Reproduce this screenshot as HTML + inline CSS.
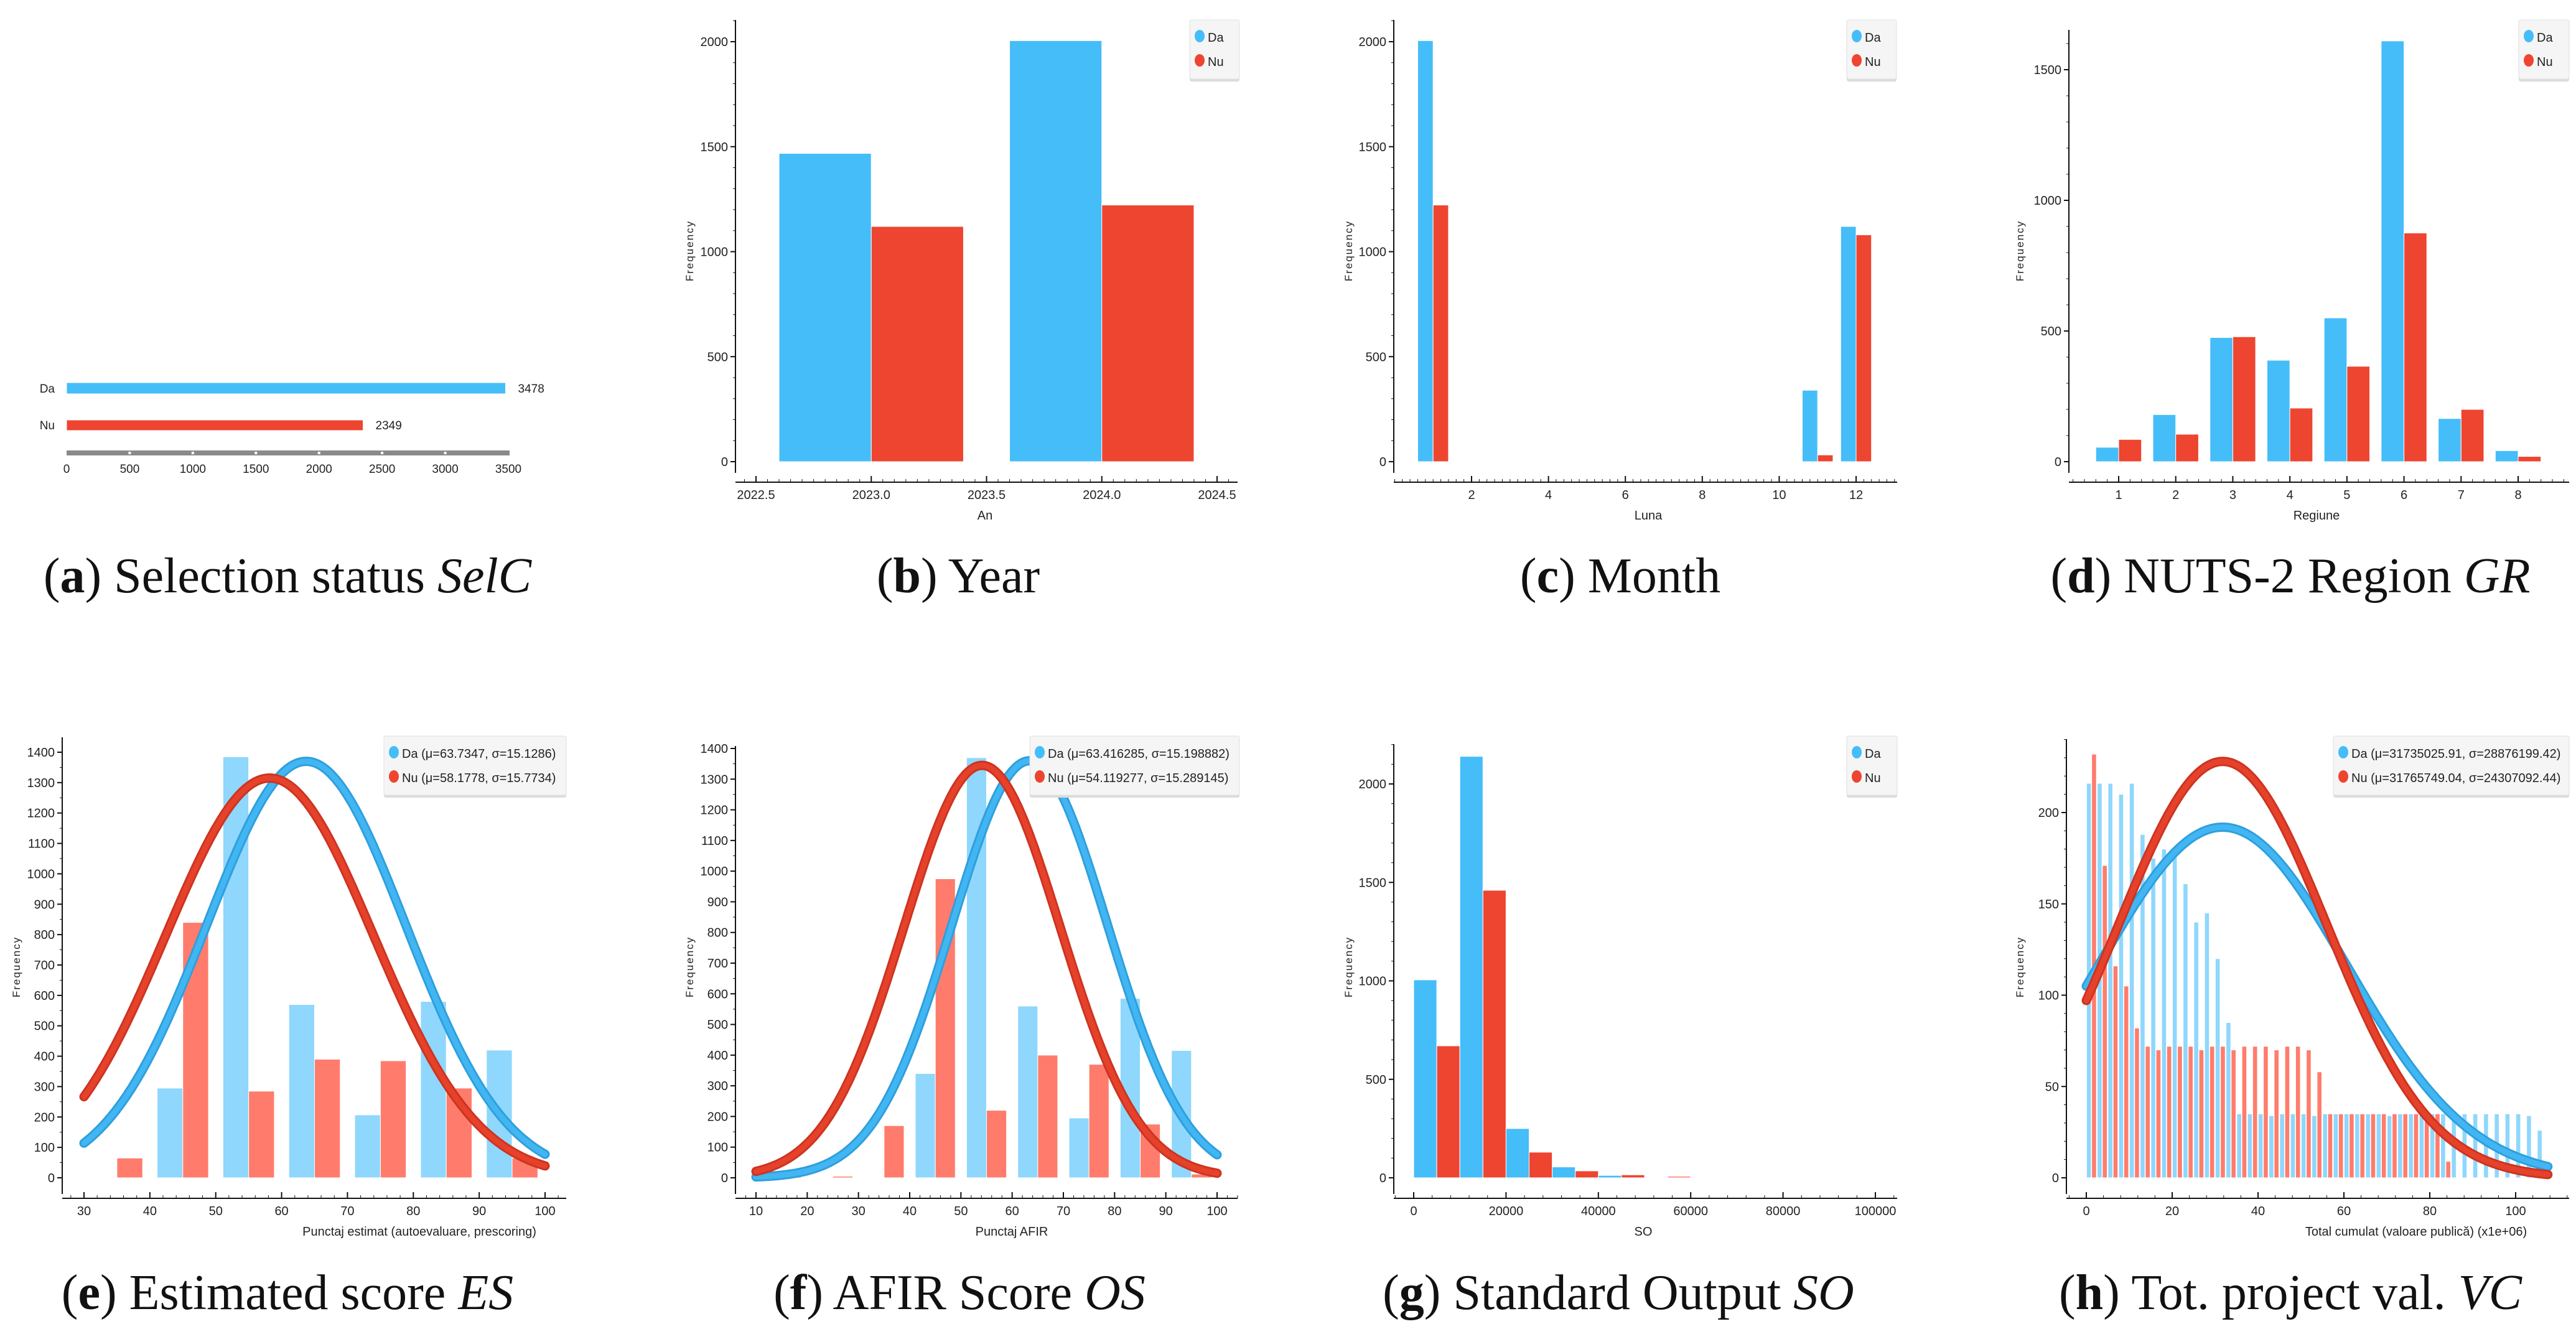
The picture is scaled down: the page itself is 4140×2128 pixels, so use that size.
<!DOCTYPE html>
<html><head><meta charset="utf-8"><title>Distributions</title>
<style>
html,body{margin:0;padding:0;background:#fff;}
svg{display:block;}
text{font-family:"Liberation Sans",sans-serif;}
.cap{font-family:"Liberation Serif",serif;font-size:80px;fill:#111;}
</style></head>
<body>
<svg id="fig" xmlns="http://www.w3.org/2000/svg" width="4140" height="2128" viewBox="0 0 4140 2128">
<rect x="0" y="0" width="4140" height="2128" fill="#fff"/>
<text class="cap" x="462" y="952" text-anchor="middle">(<tspan font-weight="bold">a</tspan>) Selection status <tspan font-style="italic">SelC</tspan></text>
<text class="cap" x="1540" y="952" text-anchor="middle">(<tspan font-weight="bold">b</tspan>) Year</text>
<text class="cap" x="2604" y="952" text-anchor="middle">(<tspan font-weight="bold">c</tspan>) Month</text>
<text class="cap" x="3681" y="952" text-anchor="middle">(<tspan font-weight="bold">d</tspan>) NUTS-2 Region <tspan font-style="italic">GR</tspan></text>
<text class="cap" x="462" y="2104" text-anchor="middle">(<tspan font-weight="bold">e</tspan>) Estimated score <tspan font-style="italic">ES</tspan></text>
<text class="cap" x="1542" y="2104" text-anchor="middle">(<tspan font-weight="bold">f</tspan>) AFIR Score <tspan font-style="italic">OS</tspan></text>
<text class="cap" x="2601" y="2104" text-anchor="middle">(<tspan font-weight="bold">g</tspan>) Standard Output <tspan font-style="italic">SO</tspan></text>
<text class="cap" x="3681" y="2104" text-anchor="middle">(<tspan font-weight="bold">h</tspan>) Tot. project val. <tspan font-style="italic">VC</tspan></text>
</svg>
<script>
// ---- data ----
const selCategories = ["Da", "Nu"];
const selValues = [3478, 2349];
const selTicks = [0, 500, 1000, 1500, 2000, 2500, 3000, 3500];

const yearCategories = [2023, 2024];
const yearDa = [1468, 2005];
const yearNu = [1120, 1222];
const yearTicks = [2022.5, 2023.0, 2023.5, 2024.0, 2024.5];

const monthCategories = [1, 11, 12];
const monthDa = [2005, 340, 1120];
const monthNu = [1222, 32, 1080];
const monthTicks = [2, 4, 6, 8, 10, 12];

const regionCategories = [1, 2, 3, 4, 5, 6, 7, 8];
const regionDa = [55, 180, 475, 388, 550, 1610, 165, 42];
const regionNu = [85, 105, 478, 205, 365, 875, 200, 20];

const esBins = [30, 40, 50, 60, 70, 80, 90];
const esDa = [0, 295, 1385, 570, 207, 580, 420];
const esNu = [65, 840, 285, 390, 385, 295, 65];
const esMu = [63.7347, 58.1778];
const esSigma = [15.1286, 15.7734];
const esPeak = [1370, 1315];

const osBins = [10, 20, 30, 40, 50, 60, 70, 80, 90];
const osDa = [0, 0, 0, 340, 1370, 560, 195, 585, 415];
const osNu = [3, 5, 170, 975, 220, 400, 370, 175, 12];
const osMu = [63.416285, 54.119277];
const osSigma = [15.198882, 15.289145];
const osPeak = [1360, 1345];

const soBins = [0, 10000, 20000, 30000, 40000, 50000, 60000, 70000, 80000, 90000];
const soDa = [1005, 2140, 250, 55, 12, 2, 3, 1, 1, 1];
const soNu = [670, 1460, 130, 35, 15, 8, 2, 1, 1, 1];

const vcDa = [216,216,216,210,216,188,175,180,178,161,140,145,120,85,35,35,35,34,35,35,35,34,35,35,35,35,35,35,34,35,35,35,35,35,35,35,35,35,35,35,35,34,26];
const vcNu = [232,171,116,105,82,72,70,72,72,72,70,72,72,70,72,72,72,70,72,72,70,58,35,35,35,35,35,35,35,35,35,35,35,9,0,0,0,0,0,0,0,0,0];
const vcMu = [31.73502591, 31.76574904];
const vcSigma = [28.87619942, 24.30709244];
const vcPeak = [192, 228];

// ---- drawing ----
const NS = "http://www.w3.org/2000/svg";
const svg = document.getElementById("fig");
const DA = "#45bdf9", NU = "#ee4530", DAL = "#8fd7fc", NUL = "#ff7c6c";

function mk(tag, attrs, name, parent) {
  const el = document.createElementNS(NS, tag);
  for (const k in attrs) el.setAttribute(k, attrs[k]);
  
  
  (parent || svg).appendChild(el);
  return el;
}
function txt(x, y, s, name, opts, parent) {
  const a = Object.assign({x: x, y: y, "font-size": 20, fill: "#222"}, opts || {});
  const t = mk("text", a, name, parent);
  t.textContent = s;
  return t;
}
function lin(v0, p0, v1, p1) { const k = (p1 - p0) / (v1 - v0); return v => p0 + (v - v0) * k; }

function axes(g, c) {
  mk("line", {x1: c.ax, y1: c.yTop, x2: c.ax, y2: c.yBot, stroke: "#111", "stroke-width": 2}, "y-axis-line", g);
  c.yTicks.forEach(v => {
    const y = c.sy(v);
    mk("line", {x1: c.ax - 8, y1: y, x2: c.ax, y2: y, stroke: "#111", "stroke-width": 2}, "y-tick", g);
    txt(c.ax - 12, y + 7, String(v), "y-tick-label", {"text-anchor": "end"}, g);
  });
  if (c.yMinor) {
    for (let v = c.yMinor[0]; v <= c.yMinor[1] + 1e-9; v += c.yMinor[2]) {
      const y = c.sy(v);
      if (y < c.yTop || y > c.yBot) continue;
      mk("line", {x1: c.ax - 4, y1: y, x2: c.ax, y2: y, stroke: "#111", "stroke-width": 1}, "y-minor-tick", g);
    }
  }
  mk("line", {x1: c.ax, y1: c.xy, x2: c.xr, y2: c.xy, stroke: "#111", "stroke-width": 2}, "x-axis-line", g);
  c.xTicks.forEach((v, i) => {
    const x = c.sx(v);
    mk("line", {x1: x, y1: c.xy - 10, x2: x, y2: c.xy, stroke: "#111", "stroke-width": 2}, "x-tick", g);
    txt(x, c.xy + 27, c.xFmt ? c.xFmt(v) : String(v), "x-tick-label", {"text-anchor": "middle"}, g);
  });
  if (c.xMinor) {
    for (let v = c.xMinor[0]; v <= c.xMinor[1] + 1e-9; v += c.xMinor[2]) {
      const x = c.sx(v);
      if (x < c.ax || x > c.xr) continue;
      mk("line", {x1: x, y1: c.xy - 5, x2: x, y2: c.xy, stroke: "#111", "stroke-width": 1}, "x-minor-tick", g);
    }
  }
  txt(c.xTitleX, c.xy + 60, c.xTitle, "x-axis-title", {"text-anchor": "middle"}, g);
  txt(0, 0, "Frequency", "y-axis-title", {"text-anchor": "middle", "font-size": 17, "letter-spacing": 2,
      transform: "translate(" + c.yTitleX + "," + c.yTitleY + ") rotate(-90)"}, g);
}
function legend(g, x, y, w, labels, cols) {
  mk("rect", {x: x, y: y + 3, width: w, height: 96, fill: "#dcdcdc", rx: 3}, "legend-shadow", g);
  mk("rect", {x: x, y: y, width: w, height: 95, fill: "#f5f5f5", stroke: "#e0e0e0", "stroke-width": 1, rx: 3}, "legend-box", g);
  labels.forEach((l, i) => {
    const cy = y + 28 + i * 39;
    mk("ellipse", {cx: x + 16, cy: cy - 2, rx: 8, ry: 10, fill: cols[i]}, "legend-marker", g);
    txt(x + 29, cy + 7, l, "legend-entry", {}, g);
  });
}
function bar(g, x0, x1, y0, y1, fill, name) {
  mk("rect", {x: Math.min(x0, x1), y: Math.min(y0, y1), width: Math.abs(x1 - x0), height: Math.abs(y1 - y0), fill: fill, stroke: "#fff", "stroke-width": 1}, name, g);
}
function curve(g, sx, sy, mu, sig, peak, a, b, color, dark, name) {
  let d = "";
  for (let i = 0; i <= 300; i++) {
    const v = a + (b - a) * i / 300;
    const f = peak * Math.exp(-((v - mu) * (v - mu)) / (2 * sig * sig));
    d += (i ? "L" : "M") + sx(v).toFixed(1) + "," + sy(f).toFixed(1);
  }
  mk("path", {d: d, fill: "none", stroke: dark, "stroke-width": 15, "stroke-linecap": "round", "stroke-linejoin": "round"}, name + "-outline", g);
  mk("path", {d: d, fill: "none", stroke: color, "stroke-width": 9, "stroke-linecap": "round", "stroke-linejoin": "round"}, name, g);
}

// ---- (a) selection status ----
(function () {
  const g = mk("g", {}, "chart-selection-status");
  const sx = lin(0, 107, 3500, 817);
  const ys = [[615, 633], [675, 692]];
  selCategories.forEach((c, i) => {
    bar(g, sx(0), sx(selValues[i]), ys[i][0], ys[i][1], i ? NU : DA, "bar-" + c.toLowerCase());
    txt(88, ys[i][1] - 2, c, "category-label", {"text-anchor": "end", "font-size": 19}, g);
    txt(sx(selValues[i]) + 20, ys[i][1] - 2, String(selValues[i]), "value-label", {"font-size": 19}, g);
  });
  mk("rect", {x: 107, y: 724, width: 712, height: 8, fill: "#8a8a8a"}, "x-axis-bar", g);
  selTicks.forEach(v => {
    if (v > 0 && v < 3500) mk("rect", {x: sx(v) - 2, y: 726, width: 4, height: 4, fill: "#fff"}, "x-tick", g);
    txt(sx(v), 760, String(v), "x-tick-label", {"text-anchor": "middle", "font-size": 19}, g);
  });
})();

// ---- (b) year ----
(function () {
  const g = mk("g", {}, "chart-year");
  const sx = lin(2022.5, 1215, 2024.5, 1956), sy = lin(0, 742, 2000, 67);
  yearCategories.forEach((c, i) => {
    bar(g, sx(c - 0.4), sx(c), sy(0), sy(yearDa[i]), DA, "bar-da-" + c);
    bar(g, sx(c), sx(c + 0.4), sy(0), sy(yearNu[i]), NU, "bar-nu-" + c);
  });
  axes(g, {ax: 1182, yTop: 32, yBot: 760, sy: sy, yTicks: [0, 500, 1000, 1500, 2000], yMinor: [0, 2100, 100],
    xy: 775, xr: 1989, sx: sx, xTicks: yearTicks, xFmt: v => v.toFixed(1), xMinor: [2022.45, 2024.6, 0.05],
    xTitle: "An", xTitleX: 1583, yTitleX: 1114, yTitleY: 403});
  legend(g, 1912, 32, 80, ["Da", "Nu"], [DA, NU]);
})();

// ---- (c) month ----
(function () {
  const g = mk("g", {}, "chart-month");
  const sx = lin(2, 2365, 12, 2983), sy = lin(0, 742, 2000, 67);
  monthCategories.forEach((c, i) => {
    bar(g, sx(c - 0.4), sx(c), sy(0), sy(monthDa[i]), DA, "bar-da-" + c);
    bar(g, sx(c), sx(c + 0.4), sy(0), sy(monthNu[i]), NU, "bar-nu-" + c);
  });
  axes(g, {ax: 2240, yTop: 32, yBot: 760, sy: sy, yTicks: [0, 500, 1000, 1500, 2000], yMinor: [0, 2100, 100],
    xy: 775, xr: 3049, sx: sx, xTicks: monthTicks, xMinor: [0, 13.2, 0.2],
    xTitle: "Luna", xTitleX: 2649, yTitleX: 2173, yTitleY: 403});
  legend(g, 2968, 32, 80, ["Da", "Nu"], [DA, NU]);
})();

// ---- (d) region ----
(function () {
  const g = mk("g", {}, "chart-region");
  const sx = lin(1, 3405, 8, 4047), sy = lin(0, 742, 1500, 112);
  regionCategories.forEach((c, i) => {
    bar(g, sx(c - 0.4), sx(c), sy(0), sy(regionDa[i]), DA, "bar-da-" + c);
    bar(g, sx(c), sx(c + 0.4), sy(0), sy(regionNu[i]), NU, "bar-nu-" + c);
  });
  axes(g, {ax: 3325, yTop: 48, yBot: 760, sy: sy, yTicks: [0, 500, 1000, 1500], yMinor: [0, 1600, 100],
    xy: 775, xr: 4129, sx: sx, xTicks: regionCategories, xMinor: [0.2, 8.8, 0.2],
    xTitle: "Regiune", xTitleX: 3723, yTitleX: 3252, yTitleY: 403});
  legend(g, 4048, 32, 81, ["Da", "Nu"], [DA, NU]);
})();

// ---- (e) estimated score ----
(function () {
  const g = mk("g", {}, "chart-estimated-score");
  const sx = lin(30, 135, 100, 876), sy = lin(0, 1893, 1400, 1209);
  esBins.forEach((c, i) => {
    if (esDa[i] > 0) bar(g, sx(c + 1.1), sx(c + 5), sy(0), sy(esDa[i]), DAL, "bar-da-" + c);
    bar(g, sx(c + 5), sx(c + 8.9), sy(0), sy(esNu[i]), NUL, "bar-nu-" + c);
  });
  curve(g, sx, sy, esMu[0], esSigma[0], esPeak[0], 30, 100, "#41b6f2", "#2f9fdc", "curve-da");
  curve(g, sx, sy, esMu[1], esSigma[1], esPeak[1], 30, 100, "#e6412b", "#cc3420", "curve-nu");
  axes(g, {ax: 100, yTop: 1185, yBot: 1919, sy: sy, yTicks: [0,100,200,300,400,500,600,700,800,900,1000,1100,1200,1300,1400], yMinor: [0, 1450, 50],
    xy: 1926, xr: 910, sx: sx, xTicks: [30,40,50,60,70,80,90,100], xMinor: [28, 102, 2],
    xTitle: "Punctaj estimat (autoevaluare, prescoring)", xTitleX: 674, yTitleX: 32, yTitleY: 1554});
  legend(g, 617, 1183, 293, ["Da (\u03bc=63.7347, \u03c3=15.1286)", "Nu (\u03bc=58.1778, \u03c3=15.7734)"], [DA, NU]);
})();

// ---- (f) AFIR score ----
(function () {
  const g = mk("g", {}, "chart-afir-score");
  const sx = lin(10, 1215, 100, 1956), sy = lin(0, 1893, 1400, 1203);
  osBins.forEach((c, i) => {
    if (osDa[i] > 0) bar(g, sx(c + 1.1), sx(c + 5), sy(0), sy(osDa[i]), DAL, "bar-da-" + c);
    bar(g, sx(c + 5), sx(c + 8.9), sy(0), sy(osNu[i]), NUL, "bar-nu-" + c);
  });
  curve(g, sx, sy, osMu[0], osSigma[0], osPeak[0], 10, 100, "#41b6f2", "#2f9fdc", "curve-da");
  curve(g, sx, sy, osMu[1], osSigma[1], osPeak[1], 10, 100, "#e6412b", "#cc3420", "curve-nu");
  axes(g, {ax: 1182, yTop: 1199, yBot: 1919, sy: sy, yTicks: [0,100,200,300,400,500,600,700,800,900,1000,1100,1200,1300,1400], yMinor: [0, 1450, 50],
    xy: 1926, xr: 1989, sx: sx, xTicks: [10,20,30,40,50,60,70,80,90,100], xMinor: [8, 104, 2],
    xTitle: "Punctaj AFIR", xTitleX: 1626, yTitleX: 1114, yTitleY: 1554});
  legend(g, 1655, 1183, 337, ["Da (\u03bc=63.416285, \u03c3=15.198882)", "Nu (\u03bc=54.119277, \u03c3=15.289145)"], [DA, NU]);
})();

// ---- (g) standard output ----
(function () {
  const g = mk("g", {}, "chart-standard-output");
  const sx = lin(0, 2272, 100000, 3014), sy = lin(0, 1893, 2000, 1260);
  soBins.forEach((c, i) => {
    bar(g, sx(c), sx(c + 5000), sy(0), sy(soDa[i]), i > 4 ? DAL : DA, "bar-da-" + c);
    bar(g, sx(c + 5000), sx(c + 10000), sy(0), sy(soNu[i]), i > 4 ? NUL : NU, "bar-nu-" + c);
  });
  axes(g, {ax: 2240, yTop: 1196, yBot: 1919, sy: sy, yTicks: [0, 500, 1000, 1500, 2000], yMinor: [0, 2200, 100],
    xy: 1926, xr: 3049, sx: sx, xTicks: [0, 20000, 40000, 60000, 80000, 100000], xMinor: [-4000, 104000, 4000],
    xTitle: "SO", xTitleX: 2641, yTitleX: 2173, yTitleY: 1554});
  legend(g, 2968, 1183, 81, ["Da", "Nu"], [DA, NU]);
})();

// ---- (h) total project value ----
(function () {
  const g = mk("g", {}, "chart-total-value");
  const sx = lin(0, 3353, 100, 4043), sy = lin(0, 1893, 200, 1306);
  vcDa.forEach((v, i) => {
    const c = i * 2.5;
    if (v > 0) bar(g, sx(c + 0.05), sx(c + 1.15), sy(0), sy(v), DAL, "bar-da-" + i);
  });
  vcNu.forEach((v, i) => {
    const c = i * 2.5;
    if (v > 0) bar(g, sx(c + 1.25), sx(c + 2.35), sy(0), sy(v), NUL, "bar-nu-" + i);
  });
  curve(g, sx, sy, vcMu[0], vcSigma[0], vcPeak[0], 0, 107.5, "#41b6f2", "#2f9fdc", "curve-da");
  curve(g, sx, sy, vcMu[1], vcSigma[1], vcPeak[1], 0, 107.5, "#e6412b", "#cc3420", "curve-nu");
  axes(g, {ax: 3321, yTop: 1188, yBot: 1919, sy: sy, yTicks: [0, 50, 100, 150, 200], yMinor: [0, 240, 10],
    xy: 1926, xr: 4129, sx: sx, xTicks: [0, 20, 40, 60, 80, 100], xMinor: [-4, 112, 4],
    xTitle: "Total cumulat (valoare publică) (x1e+06)", xTitleX: 3883, yTitleX: 3252, yTitleY: 1554});
  legend(g, 3750, 1183, 379, ["Da (\u03bc=31735025.91, \u03c3=28876199.42)", "Nu (\u03bc=31765749.04, \u03c3=24307092.44)"], [DA, NU]);
})();
</script>
</body></html>
